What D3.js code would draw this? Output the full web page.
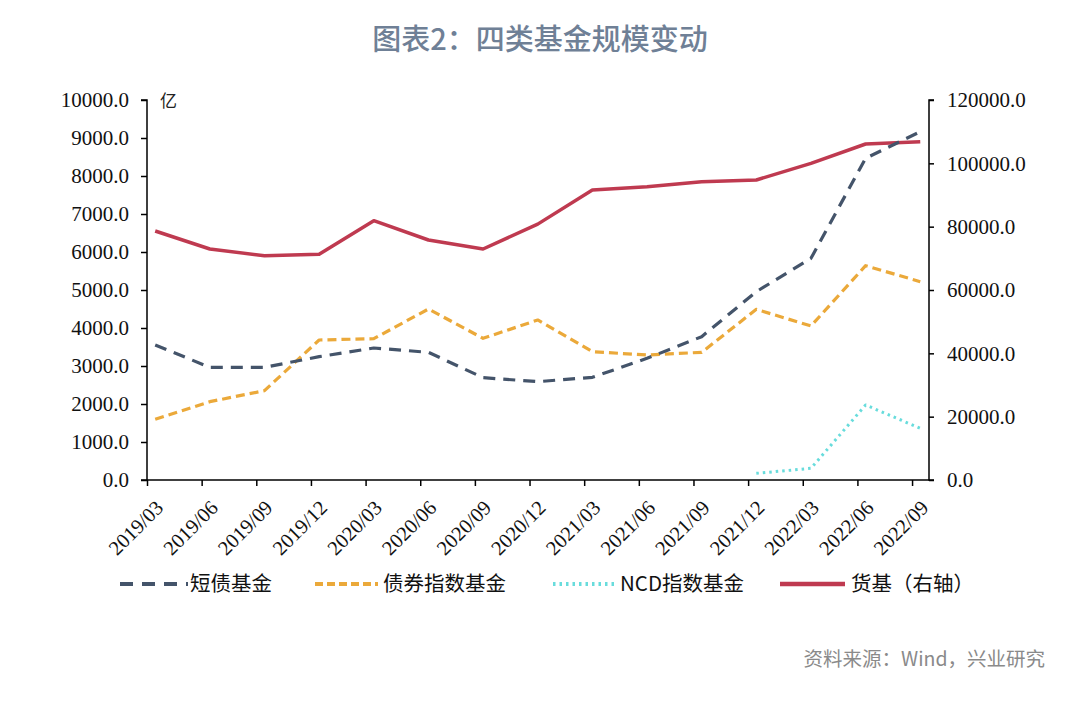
<!DOCTYPE html>
<html><head><meta charset="utf-8">
<script src="https://cdn.jsdelivr.net/npm/d3@7"></script>
<style>
html,body{margin:0;padding:0;background:#fff;}
svg{display:block;}
</style></head>
<body><svg id="c" width="1080" height="723"></svg>
<script>
const categories = ["2019/03","2019/06","2019/09","2019/12","2020/03","2020/06","2020/09","2020/12","2021/03","2021/06","2021/09","2021/12","2022/03","2022/06","2022/09"];
const shortBond = [3553,2965,2965,3246,3474,3360,2693,2588,2702,3202,3772,4956,5833,8465,9167];
const bondIndex = [1596,2061,2351,3684,3719,4500,3728,4211,3377,3289,3360,4491,4053,5640,5219];
const ncdIndex = [null,null,null,null,null,null,null,null,null,null,null,175,307,1974,1360];
const moneyFund = [78630,72950,70830,71270,81890,75790,72950,80800,91580,92630,94210,94740,100000,106110,106840];
const leftTicks = [0,1000,2000,3000,4000,5000,6000,7000,8000,9000,10000];
const rightTicks = [0,20000,40000,60000,80000,100000,120000];
const seriesNames = ["短债基金","债券指数基金","NCD指数基金","货基（右轴）"];

const svg = d3.select("#c");
const X0 = 147, X1 = 929, Y0 = 480, Y1 = 100;
const x = d3.scaleLinear().domain([-0.15, 14.16]).range([X0, X1]);
const yL = d3.scaleLinear().domain([0, 10000]).range([Y0, Y1]);
const yR = d3.scaleLinear().domain([0, 120000]).range([Y0, Y1]);
const serif = "'Liberation Serif','Times New Roman',serif";
const cjk = "'Noto Sans CJK SC','Noto Sans',sans-serif";

// title
svg.append("text").attr("x", 540).attr("y", 50).attr("text-anchor","middle")
  .attr("font-family", cjk).attr("font-size", 29).attr("font-weight", 500)
  .attr("fill", "#6f8096").text("图表2：四类基金规模变动");

// left axis
const gL = svg.append("g").attr("transform", `translate(${X0},0)`)
  .call(d3.axisLeft(yL).tickValues(leftTicks).tickSize(6).tickPadding(12).tickFormat(d3.format(".1f")));
// right axis
const gR = svg.append("g").attr("transform", `translate(${X1},0)`)
  .call(d3.axisRight(yR).tickValues(rightTicks).tickSize(5).tickPadding(13).tickFormat(d3.format(".1f")));
// bottom axis
const gB = svg.append("g").attr("transform", `translate(0,${Y0})`)
  .call(d3.axisBottom(x).tickValues(categories.map((c,i)=>i-0.15)).tickSize(6).tickPadding(4)
    .tickFormat((d,i)=>categories[i]));
[gL,gR,gB].forEach(g=>{
  g.select(".domain").attr("stroke","#000").attr("stroke-width",1.5);
  g.selectAll(".tick line").attr("stroke","#000").attr("stroke-width",1.5);
  g.selectAll("text").attr("font-family", serif).attr("font-size", 21).attr("fill","#111");
});
gL.select(".domain").attr("d", `M-6,${Y0}H0V${Y1}H-6`);
gR.select(".domain").attr("d", `M5,${Y0}H0V${Y1}H5`);
gB.select(".domain").attr("d", `M${X0},0H${X1}`);
gB.selectAll("text").attr("font-size", 20.5).attr("text-anchor","end").attr("y", 0)
  .attr("transform","translate(12,24) rotate(-45)").attr("dy","0.35em").attr("dx","0");

// unit
svg.append("text").attr("x", 160).attr("y", 107).attr("font-family", cjk)
  .attr("font-size", 17).attr("fill","#222").text("亿");

// lines
const lineL = d3.line().defined(d=>d!=null).x((d,i)=>x(i)).y(d=>yL(d));
const lineR = d3.line().defined(d=>d!=null).x((d,i)=>x(i)).y(d=>yR(d));
const styles = [
  {data: shortBond, gen: lineL, color: "#44546a", dash: "12,8", w: 3.2, ld: "13,9"},
  {data: bondIndex, gen: lineL, color: "#eba93a", dash: "9,5", w: 3.2, ld: "8,4"},
  {data: ncdIndex, gen: lineL, color: "#68dcdc", dash: "2.5,4", w: 3, ld: "2.5,4"},
  {data: moneyFund, gen: lineR, color: "#bf3a50", dash: null, w: 3.5, ld: null},
];
[3,1,2,0].forEach(k=>{
  const s = styles[k];
  svg.append("path").attr("d", s.gen(s.data)).attr("fill","none")
    .attr("stroke", s.color).attr("stroke-width", s.w)
    .attr("stroke-dasharray", s.dash).attr("stroke-linejoin","round");
});

// legend
const legendPos = [{x1:120,x2:188,tx:190},{x1:315,x2:378,tx:383},{x1:553,x2:615,tx:620},{x1:780,x2:845,tx:851}];
seriesNames.forEach((n,i)=>{
  const s = styles[i], p = legendPos[i];
  svg.append("line").attr("x1",p.x1).attr("x2",p.x2).attr("y1",584).attr("y2",584)
    .attr("stroke", s.color).attr("stroke-width", s.w+0.8).attr("stroke-dasharray", s.ld);
  svg.append("text").attr("x",p.tx).attr("y",584).attr("dy","0.35em")
    .attr("font-family", cjk).attr("font-size", 20.5).attr("fill","#111").text(n);
});

// source
svg.append("text").attr("x", 1045).attr("y", 666).attr("text-anchor","end")
  .attr("font-family", cjk).attr("font-size", 19.5).attr("fill","#8a8a8a")
  .text("资料来源：Wind，兴业研究");
</script></body></html>
